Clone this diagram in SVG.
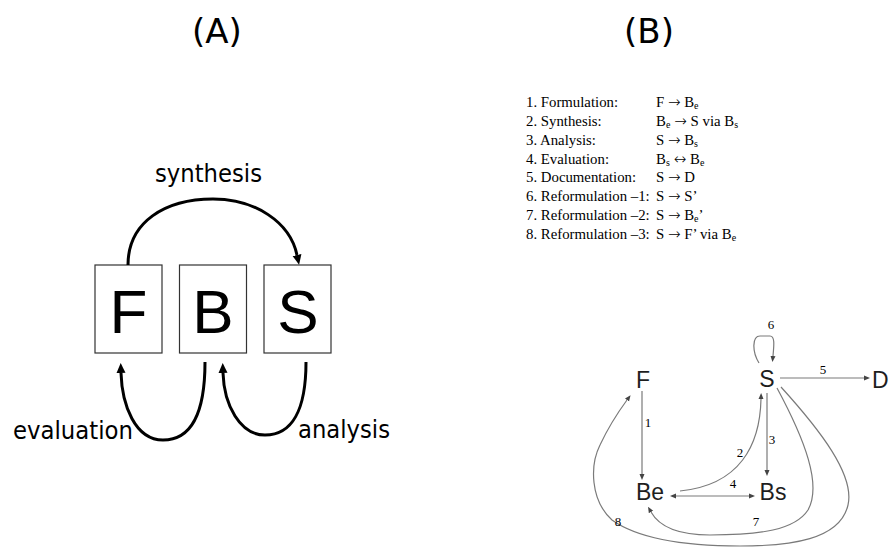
<svg xmlns="http://www.w3.org/2000/svg" width="890" height="547" viewBox="0 0 890 547">
  <style>
    .title { font-family: "DejaVu Sans", "Liberation Sans", sans-serif; font-size: 34px; fill: #000; }
    .box { fill: #fff; stroke: #333; stroke-width: 1.2; }
    .big { font-family: "Liberation Sans", Arial, sans-serif; font-size: 62px; fill: #000; text-anchor: middle; }
    .lbl { font-family: "DejaVu Sans", "Liberation Sans", sans-serif; font-size: 24px; fill: #000; }
    .arcA { fill: none; stroke: #000; stroke-width: 3; }
    .list { font-family: "Liberation Serif", "Times New Roman", serif; font-size: 14.8px; fill: #000; }
    .sub { font-size: 10px; }
    .ar { font-family: "DejaVu Sans", sans-serif; font-size: 15px; font-weight: 200; }
    .node { font-family: "Liberation Sans", Arial, sans-serif; font-size: 23px; fill: #1e1e1e; }
    .num { font-family: "Liberation Serif", "Times New Roman", serif; font-size: 13px; fill: #000; text-anchor: middle; }
    .edgeB { fill: none; stroke: #7a7a7a; stroke-width: 1.2; }
  </style>
  <defs>
    <marker id="headA" viewBox="0 -5 10 10" refX="0" refY="0" markerWidth="10" markerHeight="10" markerUnits="userSpaceOnUse" orient="auto">
      <path d="M0,-4.5 L10,0 L0,4.5 z" fill="#000"/>
    </marker>
    <marker id="headB" viewBox="0 -3 6 6" refX="0" refY="0" markerWidth="6" markerHeight="6" markerUnits="userSpaceOnUse" orient="auto-start-reverse">
      <path d="M0,-2.5 L6,0 L0,2.5 z" fill="#444"/>
    </marker>
  </defs>

  <!-- Panel A: F / B / S boxes -->
  <text class="title" x="217" y="43" text-anchor="middle">(A)</text>

  <g id="nodeF">
    <rect class="box" x="95" y="265" width="67" height="88"/>
    <text class="big" x="128.5" y="333">F</text>
  </g>
  <g id="nodeB">
    <rect class="box" x="179.5" y="265" width="67" height="88"/>
    <text class="big" x="213" y="333">B</text>
  </g>
  <g id="nodeS">
    <rect class="box" x="264" y="265" width="67" height="88"/>
    <text class="big" x="298" y="333">S</text>
  </g>

  <g id="connectorsA">
    <path class="arcA" d="M128,265 C128,222 165,199 213,199 C255,199 290,222 297,255" marker-end="url(#headA)"/>
    <path class="arcA" d="M205,362 C205,415 190,440 163,440 C135,440 122,405 121,373" marker-end="url(#headA)"/>
    <path class="arcA" d="M306,362 C306,410 292,435 265,435 C240,435 224,405 223,373" marker-end="url(#headA)"/>
  </g>

  <g id="labelsA">
    <text class="lbl" x="155" y="182" textLength="107" lengthAdjust="spacingAndGlyphs">synthesis</text>
    <text class="lbl" x="13" y="439" textLength="120" lengthAdjust="spacingAndGlyphs">evaluation</text>
    <text class="lbl" x="298" y="438" textLength="92" lengthAdjust="spacingAndGlyphs">analysis</text>
  </g>

  <!-- Panel B: process list and transition graph -->
  <text class="title" x="649" y="43" text-anchor="middle">(B)</text>

  <g id="processList" class="list">
    <text x="526" y="107">1. Formulation:</text>
    <text x="526" y="126">2. Synthesis:</text>
    <text x="526" y="145">3. Analysis:</text>
    <text x="526" y="164">4. Evaluation:</text>
    <text x="526" y="182">5. Documentation:</text>
    <text x="526" y="201">6. Reformulation –1:</text>
    <text x="526" y="220">7. Reformulation –2:</text>
    <text x="526" y="239">8. Reformulation –3:</text>

    <text x="656" y="107">F <tspan class="ar">→</tspan> B<tspan class="sub" dy="2">e</tspan></text>
    <text x="656" y="126">B<tspan class="sub" dy="2">e</tspan><tspan class="ar" dx="4" dy="-2">→</tspan> S via B<tspan class="sub" dy="2">s</tspan></text>
    <text x="656" y="145">S <tspan class="ar">→</tspan> B<tspan class="sub" dy="2">s</tspan></text>
    <text x="656" y="164">B<tspan class="sub" dy="2">s</tspan><tspan class="ar" dx="4" dy="-2">↔</tspan> B<tspan class="sub" dy="2">e</tspan></text>
    <text x="656" y="182">S <tspan class="ar">→</tspan> D</text>
    <text x="656" y="201">S <tspan class="ar">→</tspan> S’</text>
    <text x="656" y="220">S <tspan class="ar">→</tspan> B<tspan class="sub" dy="2">e</tspan><tspan dy="-2">’</tspan></text>
    <text x="656" y="239">S <tspan class="ar">→</tspan> F’ via B<tspan class="sub" dy="2">e</tspan></text>
  </g>

  <g id="gF"><text class="node" x="643" y="388" text-anchor="middle">F</text></g>
  <g id="gS"><text class="node" x="767" y="387" text-anchor="middle">S</text></g>
  <g id="gD"><text class="node" x="872" y="388">D</text></g>
  <g id="gBe"><text class="node" x="650" y="500" text-anchor="middle">Be</text></g>
  <g id="gBs"><text class="node" x="773" y="500" text-anchor="middle">Bs</text></g>

  <g id="connectorsB">
    <path class="edgeB" d="M642,391 L642,474" marker-end="url(#headB)"/>
    <path class="edgeB" d="M680,491 C740,485 760,445 761,399" marker-end="url(#headB)"/>
    <path class="edgeB" d="M767,393 L767,470" marker-end="url(#headB)"/>
    <path class="edgeB" d="M676,496 L749,496" marker-start="url(#headB)" marker-end="url(#headB)"/>
    <path class="edgeB" d="M780,378 L864,378" marker-end="url(#headB)"/>
    <path class="edgeB" d="M759,363 C752,352 752,336 760,336 L770,336 C775,336 774,345 773,356" marker-end="url(#headB)"/>
    <path class="edgeB" d="M777,388 C805,440 822,485 808,510 C795,530 760,535 710,535 C680,535 660,528 651,512" marker-end="url(#headB)"/>
    <path class="edgeB" d="M781,387 C820,430 855,475 848,505 C840,540 790,546 740,546 C690,546 640,540 612,520 C590,500 590,465 600,445 C608,428 616,415 627,400" marker-end="url(#headB)"/>
  </g>

  <g id="edgeNumbers">
    <text class="num" x="771" y="329">6</text>
    <text class="num" x="823" y="374">5</text>
    <text class="num" x="648" y="427">1</text>
    <text class="num" x="772" y="444">3</text>
    <text class="num" x="740" y="457">2</text>
    <text class="num" x="733" y="488">4</text>
    <text class="num" x="756" y="526">7</text>
    <text class="num" x="618" y="526">8</text>
  </g>
</svg>
